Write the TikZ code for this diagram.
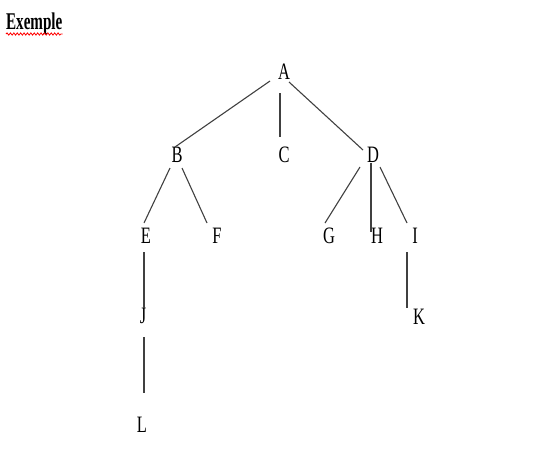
\documentclass[tikz,border=0pt]{standalone}
\usepackage{fontspec}
\setmainfont{Liberation Serif}
\usetikzlibrary{decorations.pathmorphing}
\begin{document}
\begin{tikzpicture}[x=1pt,y=-1pt,
  lbl/.style={inner sep=0pt,outer sep=0pt,xscale=0.7,font=\fontsize{23.5}{26}\selectfont,text height=0.662em,text depth=0pt,anchor=center},
  edge/.style={line width=1.1pt,draw=black!75}]
\useasboundingbox (0,0) rectangle (548,458);
\node[inner sep=0pt,anchor=base west,xscale=0.63,font=\fontsize{24}{28}\selectfont\bfseries] (title) at (6,29) {Exemple};
\draw[red,line width=0.8pt,decorate,decoration={snake,amplitude=1.1pt,segment length=3.4pt}] ([shift={(0,5)}]title.base west) -- ([shift={(0,5)}]title.base east);
\node[lbl] (A) at (284,76) {A};
\node[lbl] (B) at (177,159) {B};
\node[lbl] (C) at (284,159) {C};
\node[lbl] (D) at (373,159) {D};
\node[lbl] (E) at (146,240) {E};
\node[lbl] (F) at (217,240) {F};
\node[lbl] (G) at (329,240) {G};
\node[lbl] (H) at (377,240) {H};
\node[lbl] (I) at (415,240) {I};
\node[lbl] (J) at (143,320) {J};
\node[lbl] (K) at (419,321) {K};
\node[lbl] (L) at (142,429) {L};
\draw[edge] ([shift={(-14,5)}]A.center) -- ([shift={(-2,-12)}]B.center);
\draw[edge] ([shift={(-4,17)}]A.center) -- ([shift={(-4,-22)}]C.center);
\draw[edge] ([shift={(5,6)}]A.center) -- ([shift={(-10,-9)}]D.center);
\draw[edge] ([shift={(-7,9)}]B.center) -- ([shift={(-2,-17)}]E.center);
\draw[edge] ([shift={(5,9)}]B.center) -- ([shift={(-10,-17)}]F.center);
\draw[edge] ([shift={(-13,8)}]D.center) -- ([shift={(-4,-17)}]G.center);
\draw[edge] ([shift={(-2,4)}]D.center) -- ([shift={(-6,-8)}]H.center);
\draw[edge] ([shift={(7,8)}]D.center) -- ([shift={(-8,-17)}]I.center);
\draw[edge] ([shift={(-2,12)}]E.center) -- ([shift={(1,-12)}]J.center);
\draw[edge] ([shift={(1,17)}]J.center) -- ([shift={(2,-36)}]L.center);
\draw[edge] ([shift={(-8,12)}]I.center) -- ([shift={(-12,-13)}]K.center);
\end{tikzpicture}
\end{document}
